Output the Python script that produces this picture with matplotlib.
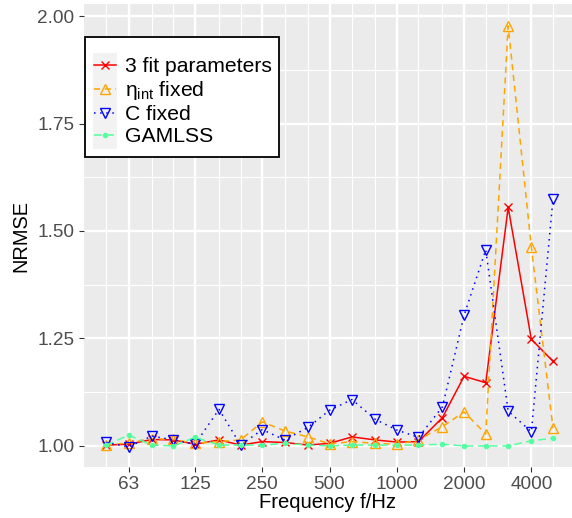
import matplotlib
matplotlib.use("Agg")
import matplotlib.pyplot as plt
from matplotlib.patches import Rectangle

plt.rcParams['font.family'] = ['Liberation Sans', 'DejaVu Sans']
plt.rcParams['mathtext.fontset'] = 'custom'
plt.rcParams['mathtext.rm'] = 'Liberation Sans'
plt.rcParams['mathtext.it'] = 'Liberation Sans:italic'

# third-octave band centre frequencies
freqs = [50, 63, 80, 100, 125, 160, 200, 250, 315, 400, 500,
         630, 800, 1000, 1250, 1600, 2000, 2500, 3150, 4000, 5000]

fit3 = [1.002, 1.004, 1.015, 1.014, 1.004, 1.014, 1.002, 1.010, 1.008, 1.002, 1.006,
        1.021, 1.014, 1.009, 1.010, 1.066, 1.162, 1.147, 1.555, 1.248, 1.197]
eta_fixed = [1.002, 1.007, 1.017, 1.015, 1.006, 1.010, 1.014, 1.056, 1.035, 1.021, 1.005,
             1.010, 1.006, 1.004, 1.014, 1.045, 1.079, 1.028, 1.977, 1.462, 1.041]
c_fixed = [1.008, 0.998, 1.023, 1.014, 1.004, 1.085, 1.002, 1.038, 1.014, 1.043, 1.083,
           1.108, 1.062, 1.037, 1.020, 1.091, 1.304, 1.456, 1.081, 1.033, 1.575]
gamlss = [1.002, 1.025, 1.002, 1.000, 1.020, 1.002, 1.002, 1.002, 1.006, 1.002, 1.000,
          1.002, 1.002, 1.002, 1.002, 1.004, 1.000, 1.000, 1.000, 1.012, 1.018]

xticks = [63, 125, 250, 500, 1000, 2000, 4000]
yticks = [1.00, 1.25, 1.50, 1.75, 2.00]

fig = plt.figure(figsize=(5.72, 5.18), dpi=100)
ax = fig.add_axes([83.5 / 572, 1 - 467 / 518, 1 - 83.5 / 572, 463 / 518])
ax.set_facecolor('#EBEBEB')
for s in ax.spines.values():
    s.set_visible(False)

ax.set_xscale('log')
ax.set_xlim(39.6, 6081)
ax.set_ylim(0.951, 2.028)

# grid
for f in freqs:
    ax.axvline(f, color='white', lw=0.8, zorder=0)
for f in xticks:
    ax.axvline(f, color='white', lw=1.7, zorder=0)
for y in [1.125, 1.375, 1.625, 1.875]:
    ax.axhline(y, color='white', lw=0.8, zorder=0)
for y in yticks:
    ax.axhline(y, color='white', lw=1.7, zorder=0)

green = '#54FF9F'
l1, = ax.plot(freqs, fit3, color='red', lw=1.1, marker='x', ms=6, mew=1.0, zorder=3)
l2, = ax.plot(freqs, eta_fixed, color='orange', lw=1.1, ls=(0, (4, 3)), marker='^', ms=7,
              mfc='none', mew=1.0, zorder=3)
l3, = ax.plot(freqs, c_fixed, color='blue', lw=1.1, ls=(0, (1, 3)), marker='v', ms=7,
              mfc='none', mew=1.0, zorder=3)
l4, = ax.plot(freqs, gamlss, color=green, lw=1.1, ls=(0, (5, 3)), marker='o', ms=3,
              zorder=3)

ax.set_xticks(xticks)
ax.set_xticklabels([str(t) for t in xticks])
ax.xaxis.set_minor_locator(matplotlib.ticker.NullLocator())
ax.set_yticks(yticks)
ax.set_yticklabels(['%.2f' % t for t in yticks])
ax.tick_params(axis='both', colors='#333333', labelcolor='#4D4D4D', labelsize=13.7,
               length=3.5, width=0.8)
ax.tick_params(axis='x', pad=3)
ax.tick_params(axis='y', pad=3)

ax.set_xlabel('Frequency f/Hz', fontsize=14.6, labelpad=0)
ax.set_ylabel('NRMSE', fontsize=14.4, labelpad=5)

# legend box with grey key column, like ggplot
fig.patches.append(Rectangle((85 / 572, 1 - 157 / 518), 194 / 572, 120 / 518,
                             transform=fig.transFigure, facecolor='white',
                             edgecolor='black', lw=1.3, zorder=3))
fig.patches.append(Rectangle((93 / 572, 1 - 149 / 518), 24 / 572, 96 / 518,
                             transform=fig.transFigure, facecolor='#F2F2F2',
                             edgecolor='none', zorder=4))
leg = fig.legend([l1, l2, l3, l4],
                 ['3 fit parameters', 'η$_{\\rm int}$ fixed', 'C fixed', 'GAMLSS'],
                 loc='upper left', bbox_to_anchor=(94 / 572, 1 - 57 / 518),
                 frameon=False, fontsize=15.2, handlelength=1.05, handletextpad=0.42,
                 labelspacing=0.15, borderpad=0, borderaxespad=0)
leg.set_zorder(5)

fig.savefig('out.png', dpi=100)
